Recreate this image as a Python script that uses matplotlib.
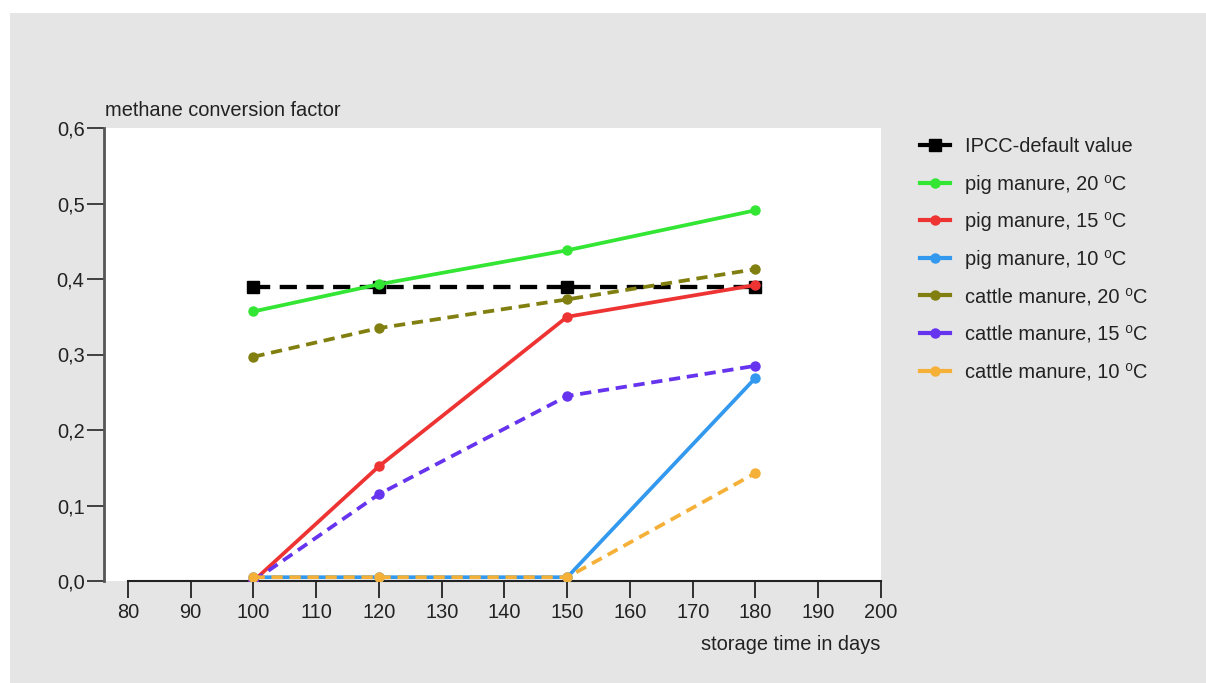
import matplotlib.pyplot as plt
from matplotlib.lines import Line2D
from matplotlib.patches import Rectangle

plt.rcParams['font.family'] = ['Liberation Sans', 'DejaVu Sans']

days = [100, 120, 150, 180]
ipcc = [0.39, 0.39, 0.39, 0.39]
pig_20 = [0.357, 0.393, 0.438, 0.491]
pig_15 = [0.0, 0.152, 0.350, 0.392]
pig_10 = [0.005, 0.005, 0.005, 0.269]
cattle_20 = [0.297, 0.335, 0.373, 0.413]
cattle_15 = [0.0, 0.115, 0.245, 0.285]
cattle_10 = [0.005, 0.005, 0.005, 0.143]

labels = ['IPCC-default value', 'pig manure, 20 ⁰C', 'pig manure, 15 ⁰C',
          'pig manure, 10 ⁰C', 'cattle manure, 20 ⁰C', 'cattle manure, 15 ⁰C',
          'cattle manure, 10 ⁰C']
xticks = list(range(80, 201, 10))
yticks = [0.0, 0.1, 0.2, 0.3, 0.4, 0.5, 0.6]

fs = 14.4
fig = plt.figure(figsize=(12.06, 6.83), dpi=100)
fig.patch.set_facecolor('white')
fig.patches.append(Rectangle((10 / 1206, 0), 1, 1 - 13 / 683, transform=fig.transFigure,
                             facecolor='#e5e5e5', edgecolor='none', zorder=-10))

ax = fig.add_axes([104 / 1206, 1 - 581 / 683, (881 - 104) / 1206, (581 - 128) / 683])
ax.set_facecolor('white')

lw = 2.7
ax.plot(days, ipcc, color='black', lw=lw + 0.4, ls=(0, (4, 2.2)), marker='s', ms=8.5, zorder=2)
ax.plot(days, pig_20, color='#33e633', lw=lw, marker='o', ms=6.5, zorder=3)
ax.plot(days, pig_15, color='#ee3333', lw=lw, marker='o', ms=6.5, zorder=3)
ax.plot(days, pig_10, color='#3399ee', lw=lw, marker='o', ms=6.5, zorder=3)
ax.plot(days, cattle_20, color='#807f10', lw=lw, ls=(0, (3, 1.8)), marker='o', ms=6.5, zorder=3)
ax.plot(days, cattle_15, color='#6633ee', lw=lw, ls=(0, (3, 1.8)), marker='o', ms=6.5, zorder=3)
ax.plot(days, cattle_10, color='#f5b038', lw=lw, ls=(0, (3, 1.8)), marker='o', ms=6.5, zorder=4)

ax.set_xlim(76.18, 200)
ax.set_ylim(0, 0.6)
ax.set_xticks(xticks)
ax.set_yticks(yticks)
ax.set_yticklabels([f'{v:.1f}'.replace('.', ',') for v in yticks])
ax.tick_params(axis='x', length=12, width=1.3, labelsize=fs, pad=4, color='#222222',
               labelcolor='#222222')
ax.tick_params(axis='y', length=12, width=1.3, labelsize=fs, pad=2, color='#333333',
               labelcolor='#222222')

for s in ['top', 'right']:
    ax.spines[s].set_visible(False)
ax.spines['left'].set_linewidth(2)
ax.spines['left'].set_color('#555555')
ax.spines['bottom'].set_linewidth(1.5)
ax.spines['bottom'].set_color('#222222')
ax.spines['bottom'].set_bounds(80, 200)
ax.spines['left'].set_zorder(5)

fig.text(105 / 1206, 1 - 110 / 683, 'methane conversion factor', fontsize=fs,
         ha='left', va='center', color='#222222')
fig.text(880 / 1206, 1 - 645 / 683, 'storage time in days', fontsize=fs,
         ha='right', va='center', color='#222222')

colors = ['black', '#33e633', '#ee3333', '#3399ee', '#807f10', '#6633ee', '#f5b038']
handles = [Line2D([], [], color=c, lw=3, marker='s' if i == 0 else 'o',
                  ms=8.5 if i == 0 else 6.5) for i, c in enumerate(colors)]
leg = fig.legend(handles, labels, loc='upper left', bbox_to_anchor=(902 / 1206, 1 - 119 / 683),
                 frameon=False, fontsize=fs, handlelength=1.5, handletextpad=0.75,
                 labelspacing=0.93, labelcolor='#222222')

fig.savefig('out.png', dpi=100)
